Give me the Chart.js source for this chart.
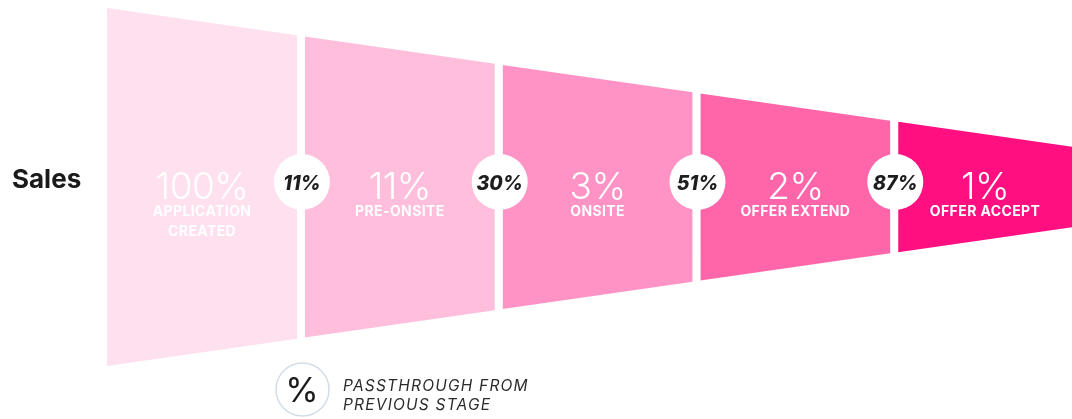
<!DOCTYPE html>
<html>
<head>
<meta charset="utf-8">
<script src="https://cdn.jsdelivr.net/npm/chart.js@4.4.1/dist/chart.umd.min.js"></script>
<style>
  html, body { margin: 0; padding: 0; background: #fff; }
  #wrap { position: relative; width: 1072px; height: 419px; }
</style>
</head>
<body>
<div id="wrap"><canvas id="funnel"></canvas></div>
<script>
const rowLabel = 'Sales'
const stageLabels = [['APPLICATION', 'CREATED'], ['PRE-ONSITE'], ['ONSITE'], ['OFFER EXTEND'], ['OFFER ACCEPT']]
const stageShare = [100, 11, 3, 2, 1]
const passthrough = [11, 30, 51, 87]
const stageColors = ['#ffe0ee', '#ffbedc', '#ff93c5', '#ff66aa', '#ff0f80']
const legendLines = ['PASSTHROUGH FROM', 'PREVIOUS STAGE']

// funnel geometry (x in stage units, y in half-heights)
const stageSpan = 0.961
const xMax = 4.879
const taper = 0.159
const half = x => 1 - taper * x
const stageEnd = i => Math.min(i + stageSpan, xMax)

const datasets = []
stageShare.forEach((v, i) => {
  const x0 = i, x1 = stageEnd(i)
  datasets.push({
    data: [{ x: x0, y: half(x0) }, { x: x1, y: half(x1) }],
    backgroundColor: stageColors[i],
    borderWidth: 0,
    pointRadius: 0,
    fill: '+1'
  })
  datasets.push({
    data: [{ x: x0, y: -half(x0) }, { x: x1, y: -half(x1) }],
    borderWidth: 0,
    pointRadius: 0,
    fill: false
  })
})

const funnelText = {
  id: 'funnelText',
  afterDatasetsDraw(chart) {
    const { ctx, scales: { x, y } } = chart
    const y0 = y.getPixelForValue(0)
    ctx.save()
    ctx.textAlign = 'center'
    ctx.textBaseline = 'alphabetic'

    // stage share + name
    stageShare.forEach((v, i) => {
      const cx = x.getPixelForValue((i + stageEnd(i)) / 2)
      ctx.fillStyle = '#ffffff'
      ctx.font = '300 37px Inter'
      ctx.letterSpacing = '-0.5px'
      ctx.fillText(v + '%', cx, y0 + 12)
      ctx.font = '700 14px Inter'
      ctx.letterSpacing = '0.4px'
      stageLabels[i].forEach((line, j) => ctx.fillText(line, cx, y0 + 29 + j * 20))
    })

    // passthrough badges between stages
    ctx.letterSpacing = '0px'
    passthrough.forEach((p, i) => {
      const cx = x.getPixelForValue(i + 1 - (1 - stageSpan) / 2) + 1
      const cy = y0 - 5
      ctx.beginPath()
      ctx.arc(cx, cy, 28, 0, Math.PI * 2)
      ctx.fillStyle = '#ffffff'
      ctx.fill()
      ctx.fillStyle = '#1e1e1e'
      ctx.font = 'italic 800 19.5px Inter'
      ctx.fillText(p + '%', cx, cy + 8)
    })
    ctx.restore()
  },
  afterDraw(chart) {
    const { ctx } = chart
    ctx.save()
    // row label
    ctx.fillStyle = '#1a1a1a'
    ctx.font = '700 26px Inter'
    ctx.textAlign = 'left'
    ctx.fillText(rowLabel, 12, 188)

    // legend
    ctx.beginPath()
    ctx.arc(302.5, 389.5, 26.5, 0, Math.PI * 2)
    ctx.strokeStyle = '#d3dde8'
    ctx.lineWidth = 1.5
    ctx.stroke()
    ctx.fillStyle = '#1a1a1a'
    ctx.font = '400 34px Inter'
    ctx.textAlign = 'center'
    ctx.fillText('%', 302, 402)
    ctx.textAlign = 'left'
    ctx.fillStyle = '#2b2b2b'
    ctx.font = 'italic 400 15.5px Inter'
    ctx.letterSpacing = '1.2px'
    legendLines.forEach((t, j) => ctx.fillText(t, 343, 391 + j * 18.5))
    ctx.restore()
  }
}

new Chart(document.getElementById('funnel'), {
  type: 'line',
  data: { datasets },
  options: {
    responsive: true,
    maintainAspectRatio: false,
    animation: false,
    layout: { padding: { left: 107, top: 8, right: 0, bottom: 53 } },
    scales: {
      x: { type: 'linear', min: 0, max: xMax, display: false },
      y: { min: -1, max: 1, display: false }
    },
    plugins: {
      legend: { display: false },
      tooltip: { enabled: false }
    }
  },
  plugins: [funnelText]
})
</script>
</body>
</html>
